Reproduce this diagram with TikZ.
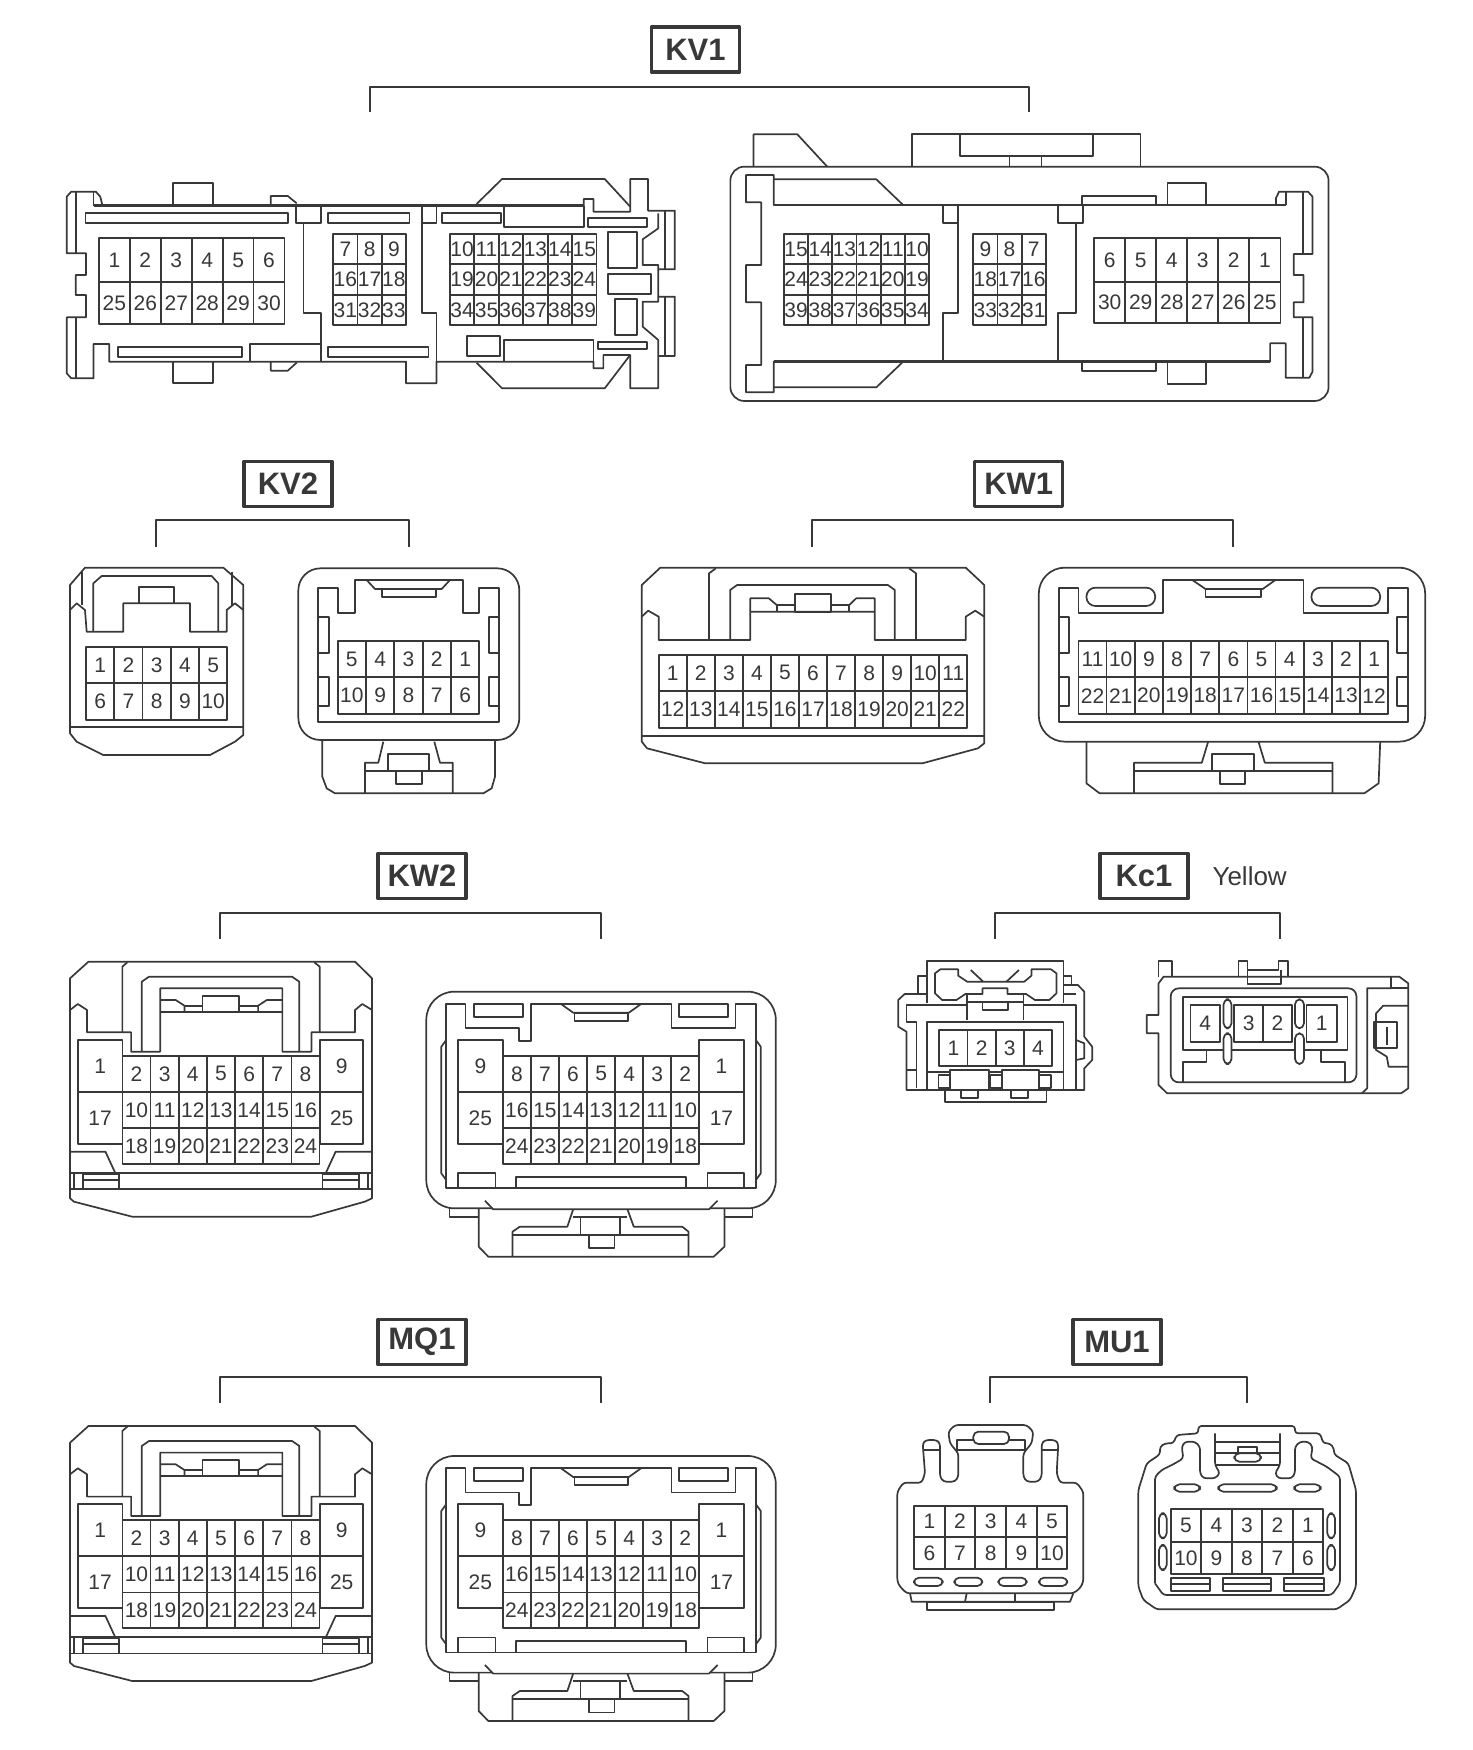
\documentclass[tikz,border=0pt]{standalone}
\usepackage{fontspec}
\setmainfont{Liberation Sans}
\usepackage{xcolor}
\usetikzlibrary{positioning}
\definecolor{ink}{gray}{0.22}
\tikzset{
    conlabel/.style={draw=ink, line width=3.4pt, rectangle, inner sep=0pt, minimum width=88pt, minimum height=45pt, font=\fontsize{31}{31}\selectfont\bfseries, text=ink},
    bracket/.style={line width=2.2pt},
    heavy/.style={line width=2.6pt},
    pinnum/.style={inner sep=0pt, font=\fontsize{21}{21}\selectfont, text=ink},
    pill/.style={rounded corners=5pt},
    viewA/.style={shift={(40,0)}, x=0.44643pt, y=-0.33333pt},
    viewB/.style={shift={(700,100)}, x=0.44643pt, y=-0.33333pt},
    viewC/.style={shift={(40,440)}, x=0.33333pt, y=-0.33333pt},
    viewD/.style={shift={(610,440)}, x=0.52934pt, y=-0.33333pt},
    viewF/.style={shift={(860,840)}, x=0.35714pt, y=-0.33333pt},
    viewH/.style={shift={(860,1300)}, x=0.33333pt, y=-0.33333pt},
}
% One row of pin cells: name, left, cell width, top, bottom, labels
\newcommand{\pinrow}[6]{
    \foreach \lab [count=\c from 0] in {#6}
        \draw ({#2+\c*#3},#4) rectangle node[pinnum] (#1-\lab) {\lab} ({#2+(\c+1)*#3},#5);
}
% Label box with its bracket
\newcommand{\conhead}[7]{
    \node[conlabel] (#1) at (#2,#3) {#1};
    \coordinate (#1top) at (#2,#6);
    \coordinate (#1l) at (#4,#7);
    \coordinate (#1r) at (#5,#7);
    \draw[bracket] (#1l) |- (#1top) -| (#1r);
}
% 25 pin plug, name and vertical position
\newcommand{\plugfront}[2]{
    \begin{scope}[shift={(40,#2)}, x=0.48469pt, y=-0.33333pt]
        \draw (62,415) -- (100,365) -- (650,365) -- (685,415) -- (685,1075) -- (670,1085) -- (560,1130) -- (190,1130) -- (70,1085) -- (62,1075) -- cycle;
        \draw (62,510) -- (78,492) -- (97,510) -- (97,577) -- (188,577) -- (188,635) -- (248,635) -- (248,445) -- (500,445) -- (500,635) -- (560,635) -- (560,577) -- (650,577) -- (650,510) -- (665,492) -- (685,510);
        \draw (170,577) -- (170,380) -- (180,367);
        \draw (566,367) -- (577,380) -- (577,577);
        \draw (210,635) -- (210,425) -- (225,410) -- (520,410) -- (535,425) -- (535,635);
        \draw (248,480) -- (280,480) -- (298,497) -- (298,515);
        \draw (298,497) -- (335,497);
        \draw (335,467) rectangle (410,515);
        \draw (410,497) -- (450,497);
        \draw (450,515) -- (450,497) -- (468,480) -- (500,480);
        \draw (248,515) -- (500,515);
        % side pins
        \draw (78,600) rectangle node[pinnum] (#1-1) {1} (170,755);
        \draw (78,755) rectangle node[pinnum] (#1-17) {17} (170,912);
        \draw (578,600) rectangle node[pinnum] (#1-9) {9} (667,755);
        \draw (578,755) rectangle node[pinnum] (#1-25) {25} (667,912);
        \pinrow{#1}{170}{58.1}{648}{755}{2,3,4,5,6,7,8}
        \pinrow{#1}{170}{58.1}{755}{865}{10,11,12,13,14,15,16}
        \pinrow{#1}{170}{58.1}{865}{972}{18,19,20,21,22,23,24}
        % bottom latches
        \draw (62,935) -- (135,935) -- (155,998);
        \draw (685,935) -- (610,935) -- (590,998);
        \draw (62,998) -- (685,998);
        \draw (62,1048) -- (685,1048);
        \draw (70,998) -- (70,1048);
        \draw (677,998) -- (677,1048);
        \draw (88,1003) rectangle (163,1048);
        \draw (88,1020) -- (163,1020);
        \draw (583,1003) rectangle (658,1048);
        \draw (583,1020) -- (658,1020);
    \end{scope}
}
\newcommand{\plugback}[2]{
    \begin{scope}[shift={(40,#2)}, x=0.48469pt, y=-0.33333pt]
        \draw[rounded corners=28pt] (797,455) rectangle (1518,1105);
        \draw (845,1105) -- (845,1130) -- (905,1130);
        \draw (1470,1105) -- (1470,1130) -- (1412,1130);
        \draw (905,1105) -- (905,1220) -- (925,1250) -- (1390,1250) -- (1412,1220) -- (1412,1105);
        \draw[fill=white] (918,1082) -- (935,1108) -- (1380,1108) -- (1398,1082);
        \draw (1100,1108) -- (1088,1160) -- (990,1160) -- (975,1175) -- (975,1250);
        \draw (1212,1108) -- (1225,1160) -- (1325,1160) -- (1338,1175) -- (1338,1250);
        \draw (975,1185) -- (1338,1185);
        \draw (1100,1130) -- (1212,1130);
        \draw (1115,1130) -- (1115,1185);
        \draw (1197,1130) -- (1197,1185);
        \draw (1132,1185) rectangle (1185,1225);
        \draw (838,1045) -- (838,492) -- (878,492) -- (878,565) -- (988,565) -- (988,603) -- (1013,603) -- (1013,492) -- (1303,492) -- (1303,565) -- (1435,565) -- (1435,492) -- (1477,492) -- (1477,1045) -- cycle;
        \draw (838,600) -- (828,620) -- (828,1000) -- (838,1020);
        \draw (1477,600) -- (1487,620) -- (1487,1000) -- (1477,1020);
        \draw (895,492) rectangle (997,530);
        \draw (1318,492) rectangle (1420,530);
        \draw (1075,492) -- (1100,518) -- (1215,518) -- (1240,492);
        \draw (1103,518) rectangle (1213,543);
        \draw (863,1000) rectangle (940,1045);
        \draw (982,1010) rectangle (1333,1045);
        \draw (1377,1000) rectangle (1452,1045);
        % side pins
        \draw (862,600) rectangle node[pinnum] (#1-9) {9} (955,755);
        \draw (862,755) rectangle node[pinnum] (#1-25) {25} (955,912);
        \draw (1360,600) rectangle node[pinnum] (#1-1) {1} (1452,755);
        \draw (1360,755) rectangle node[pinnum] (#1-17) {17} (1452,912);
        \pinrow{#1}{955}{57.9}{648}{755}{8,7,6,5,4,3,2}
        \pinrow{#1}{955}{57.9}{755}{865}{16,15,14,13,12,11,10}
        \pinrow{#1}{955}{57.9}{865}{972}{24,23,22,21,20,19,18}
    \end{scope}
}

\begin{document}
\begin{tikzpicture}[x=1pt, y=-1pt, line width=1.7pt, line join=round, draw=ink]
    \useasboundingbox (0,0) rectangle (1472,1750);

    % Label boxes and brackets
    \conhead{KV1}{695.5}{49.5}{370}{1029}{87}{112}
    \conhead{KV2}{288}{484}{156}{409}{520}{547}
    \conhead{KW1}{1018.7}{484}{812}{1232.6}{520}{547}
    \conhead{KW2}{422}{876}{220}{601}{912.7}{938.7}
    \conhead{Kc1}{1144}{876}{995}{1279.6}{912.7}{938.7}
    \conhead{MQ1}{422}{1342}{220}{601}{1376.7}{1402.7}
    \conhead{MU1}{1117}{1342}{990}{1247.3}{1376.7}{1402.7}
    \node[right=22pt of Kc1, inner sep=0pt, font=\fontsize{26}{26}\selectfont, text=ink] (yellow) {Yellow};

    % KV1 plug
    \begin{scope}[viewA]
        \draw (140,617) -- (135,590) -- (125,575) -- (70,575) -- (60,590) -- (60,760) -- (103,760) -- (103,825) -- (80,825) -- (80,885) -- (103,885) -- (103,952) -- (60,952) -- (60,1120) -- (70,1135) -- (120,1135) -- (120,1032) -- (155,1032) -- (155,1085) -- (820,1085) -- (820,1150) -- (888,1150) -- (888,1085) -- (1240,1085) -- (1240,1105) -- (1262,1105) -- (1262,1065) -- (1322,1065) -- (1322,1165) -- (1385,1165) -- (1385,1068) -- (1422,1068) -- (1422,890) -- (1385,890) -- (1385,808) -- (1422,808) -- (1422,632) -- (1362,632) -- (1362,537) -- (1322,537) -- (1322,635) -- (1240,635) -- (1240,597) -- (1218,597) -- (1218,617) -- cycle;
        \draw[heavy] (120,617) -- (1218,617);
        \draw (80,575) -- (80,760);
        \draw (80,952) -- (80,1135);
        \draw (120,575) -- (120,617);
        \draw (298,617) -- (298,550) -- (387,550) -- (387,617);
        \draw (298,1085) -- (298,1150) -- (387,1150) -- (387,1085);
        \draw (517,617) -- (517,588) -- (555,588) -- (575,610);
        \draw (517,1085) -- (517,1112) -- (555,1112) -- (575,1088);
        \draw (102,640) rectangle (555,668);
        \draw (645,640) rectangle (828,668);
        \draw (900,640) rectangle (1032,668);
        \draw (573,617) -- (573,668) -- (630,668) -- (630,617);
        \draw (590,668) -- (590,940) -- (630,940) -- (630,1085);
        \draw (855,617) -- (855,940) -- (888,940) -- (888,1085);
        \draw (855,668) -- (888,668) -- (888,617);
        \draw (175,1040) rectangle (452,1070);
        \draw (470,1085) -- (470,1032) -- (630,1032);
        \draw (645,1040) rectangle (870,1070);
        \draw (978,612) -- (1035,537) -- (1265,537) -- (1322,620);
        \draw (978,1088) -- (1035,1165) -- (1265,1165) -- (1322,1065);
        \draw (1040,617) -- (1040,680) -- (1218,680) -- (1218,617);
        \draw (1228,655) rectangle (1360,680);
        \draw (1400,632) -- (1400,808);
        \draw (1400,890) -- (1400,1068);
        \draw (1272,697) rectangle (1337,803);
        \draw (1272,822) rectangle (1368,882);
        \draw (1288,897) rectangle (1337,1005);
        \draw (957,1008) rectangle (1030,1068);
        \draw (1040,1085) -- (1040,1020) -- (1240,1020) -- (1240,1085);
        \draw (1250,1025) rectangle (1360,1046);
        \draw (1385,640) -- (1385,685) -- (1350,718) -- (1350,795) -- (1385,795) -- (1385,808);
        \draw (1385,890) -- (1385,905) -- (1350,905) -- (1350,980) -- (1385,1020) -- (1385,1068);
        \pinrow{kva}{132}{69.3}{715}{845}{1,2,3,4,5,6}
        \pinrow{kva}{132}{69.3}{845}{972}{25,26,27,28,29,30}
        \pinrow{kva}{657}{54.3}{703}{793}{7,8,9}
        \pinrow{kva}{657}{54.3}{793}{885}{16,17,18}
        \pinrow{kva}{657}{54.3}{885}{975}{31,32,33}
        \pinrow{kva}{918}{54.8}{703}{793}{10,11,12,13,14,15}
        \pinrow{kva}{918}{54.8}{793}{885}{19,20,21,22,23,24}
        \pinrow{kva}{918}{54.8}{885}{975}{34,35,36,37,38,39}
    \end{scope}

    % KV1 socket
    \begin{scope}[viewB]
        \draw[rounded corners=14pt] (68,200) rectangle (1408,903);
        \draw (120,200) -- (120,103) -- (218,103) -- (285,200);
        \draw (475,200) -- (475,103) -- (987,103) -- (987,200);
        \draw (583,103) -- (583,167) -- (880,167) -- (880,103);
        \draw (693,167) -- (693,200);
        \draw (765,167) -- (765,200);
        \draw (165,315) -- (165,225) -- (103,225) -- (103,307) -- (137,307) -- (137,495) -- (103,495) -- (103,607) -- (137,607) -- (137,795) -- (103,795) -- (103,877) -- (165,877) -- (165,785) -- (1277,785) -- (1277,730) -- (1312,730) -- (1312,833) -- (1365,833) -- (1372,815) -- (1372,652) -- (1330,652) -- (1330,607) -- (1352,607) -- (1352,525) -- (1330,525) -- (1330,462) -- (1372,462) -- (1372,290) -- (1362,275) -- (1297,275) -- (1290,295) -- (1290,315) -- cycle;
        \draw[heavy] (165,315) -- (1312,315);
        \draw[heavy] (165,785) -- (1277,785);
        \draw (1312,275) -- (1312,315);
        \draw (1350,275) -- (1350,462);
        \draw (1350,652) -- (1350,833);
        \draw (165,238) -- (395,238) -- (455,315);
        \draw (165,862) -- (395,862) -- (455,785);
        \draw (545,315) -- (545,370) -- (578,370) -- (578,315);
        \draw (578,370) -- (578,640) -- (545,640) -- (545,785);
        \draw (802,315) -- (802,370) -- (858,370) -- (858,315);
        \draw (842,370) -- (842,640) -- (802,640) -- (802,785);
        \draw (855,315) -- (855,288) -- (1022,288) -- (1022,315);
        \draw (1047,315) -- (1047,250) -- (1133,250) -- (1133,315);
        \draw (855,785) -- (855,812) -- (1022,812) -- (1022,785);
        \draw (1047,785) -- (1047,852) -- (1133,852) -- (1133,785);
        \pinrow{kvb}{188}{54.2}{403}{493}{15,14,13,12,11,10}
        \pinrow{kvb}{188}{54.2}{493}{585}{24,23,22,21,20,19}
        \pinrow{kvb}{188}{54.2}{585}{675}{39,38,37,36,35,34}
        \pinrow{kvb}{612}{54.3}{403}{493}{9,8,7}
        \pinrow{kvb}{612}{54.3}{493}{585}{18,17,16}
        \pinrow{kvb}{612}{54.3}{585}{675}{33,32,31}
        \pinrow{kvb}{883}{69.5}{415}{545}{6,5,4,3,2,1}
        \pinrow{kvb}{883}{69.5}{545}{670}{30,29,28,27,26,25}
    \end{scope}

    % KV2 plug and socket
    \begin{scope}[viewC]
        \draw (90,435) -- (135,383) -- (550,383) -- (610,435) -- (610,885) -- (585,905) -- (510,945) -- (190,945) -- (110,905) -- (90,880) -- cycle;
        \draw (90,860) -- (610,860);
        \draw (125,395) -- (125,495);
        \draw (575,395) -- (575,495);
        \draw (90,510) -- (110,490) -- (135,510) -- (140,575) -- (250,575) -- (250,490) -- (450,490) -- (450,575) -- (560,575) -- (560,510) -- (585,490) -- (610,510);
        \draw (160,575) -- (160,430) -- (185,408) -- (515,408) -- (535,430) -- (535,575);
        \draw (297,490) -- (297,440) -- (403,440) -- (403,490);
        \pinrow{kwa}{138}{84.8}{622}{728}{1,2,3,4,5}
        \pinrow{kwa}{138}{84.8}{728}{840}{6,7,8,9,10}

        \draw[rounded corners=22pt] (775,385) rectangle (1438,900);
        \draw (847,900) -- (847,1010) -- (860,1045) -- (885,1060) -- (1330,1060) -- (1355,1045) -- (1365,1010) -- (1365,900);
        \draw (1030,905) -- (1015,968) -- (975,968) -- (975,1060);
        \draw (1183,905) -- (1200,968) -- (1238,968) -- (1238,1060);
        \draw (975,993) -- (1238,993);
        \draw (1043,943) rectangle (1168,993);
        \draw (1067,993) rectangle (1145,1033);
        \draw (835,845) -- (835,445) -- (895,445) -- (895,520) -- (945,520) -- (945,420) -- (1268,420) -- (1268,520) -- (1318,520) -- (1318,445) -- (1378,445) -- (1378,845) -- cycle;
        \draw (980,420) -- (1005,447) -- (1205,447) -- (1230,420);
        \draw (1025,447) rectangle (1187,472);
        \draw (835,530) rectangle (867,640);
        \draw (835,712) rectangle (867,797);
        \draw (1347,530) rectangle (1378,640);
        \draw (1347,712) rectangle (1378,797);
        \pinrow{kwb}{893}{85}{603}{712}{5,4,3,2,1}
        \pinrow{kwb}{893}{85}{712}{822}{10,9,8,7,6}
    \end{scope}

    % KW1 plug and socket
    \begin{scope}[viewD]
        \draw (60,435) -- (95,383) -- (672,383) -- (707,435) -- (707,910) -- (695,925) -- (590,970) -- (180,970) -- (70,925) -- (60,905) -- cycle;
        \draw (60,887) -- (707,887);
        \draw (60,530) -- (72,512) -- (92,530) -- (92,600) -- (265,600) -- (265,515) -- (500,515) -- (500,600) -- (672,600) -- (672,530) -- (690,512) -- (707,530);
        \draw (187,600) -- (187,400) -- (200,385);
        \draw (565,385) -- (578,400) -- (578,600);
        \draw (227,600) -- (227,450) -- (240,435) -- (525,435) -- (538,450) -- (538,600);
        \draw (265,515) -- (265,475) -- (300,475) -- (315,495) -- (350,495);
        \draw (350,463) rectangle (417,515);
        \draw (417,495) -- (452,495) -- (465,475) -- (500,475) -- (500,515);
        \draw (315,495) -- (315,515);
        \draw (452,495) -- (452,515);
        \pinrow{kxa}{92}{53}{645}{752}{1,2,3,4,5,6,7,8,9,10,11}
        \pinrow{kxa}{92}{53}{752}{865}{12,13,14,15,16,17,18,19,20,21,22}

        \draw[rounded corners=26pt] (810,383) rectangle (1540,905);
        \draw (900,905) -- (900,1030) -- (925,1060) -- (1425,1060) -- (1452,1030) -- (1455,905);
        \draw (1130,905) -- (1118,968) -- (990,968) -- (990,1060);
        \draw (1225,905) -- (1237,968) -- (1365,968) -- (1365,1060);
        \draw (990,993) -- (1365,993);
        \draw (1137,943) rectangle (1217,993);
        \draw (1152,993) rectangle (1200,1033);
        \draw (848,845) -- (848,445) -- (885,445) -- (885,520) -- (1045,520) -- (1045,420) -- (1310,420) -- (1310,520) -- (1470,520) -- (1470,445) -- (1507,445) -- (1507,845) -- cycle;
        \draw (1100,420) -- (1125,447) -- (1233,447) -- (1257,420);
        \draw (1125,447) rectangle (1230,472);
        \draw[rounded corners=9pt] (900,443) rectangle (1030,498);
        \draw[rounded corners=9pt] (1325,443) rectangle (1455,498);
        \draw (848,530) rectangle (867,640);
        \draw (848,712) rectangle (867,797);
        \draw (1487,530) rectangle (1507,640);
        \draw (1487,712) rectangle (1507,797);
        \pinrow{kxb}{885}{53.2}{603}{712}{11,10,9,8,7,6,5,4,3,2,1}
        \pinrow{kxb}{885}{53.2}{712}{822}{22,21,20,19,18,17,16,15,14,13,12}
    \end{scope}

    % KW2 and MQ1
    \plugfront{kya}{840}
    \plugback{kyb}{840}
    \plugfront{mqa}{1304.3}
    \plugback{mqb}{1304.3}

    % Kc1 plug and socket
    \begin{scope}[viewF]
        \draw (187,490) -- (187,363) -- (570,363) -- (570,490);
        \draw (210,400) -- (225,388) -- (275,388) -- (275,407) -- (300,425) -- (460,425) -- (480,407) -- (480,388) -- (535,388) -- (550,400) -- (550,460) -- (530,480) -- (490,480) -- (465,462) -- (413,462) -- (413,445) -- (343,445) -- (343,462) -- (295,462) -- (270,480) -- (230,480) -- (210,460) -- cycle;
        \draw (310,390) -- (345,425);
        \draw (445,390) -- (410,425);
        \draw (300,462) -- (300,540);
        \draw (458,462) -- (458,540);
        \draw (300,485) -- (458,485);
        \draw (343,487) rectangle (415,510);
        \draw (163,462) -- (163,408) -- (187,408);
        \draw (570,408) -- (592,408) -- (592,435);
        \draw (187,462) -- (125,462) -- (107,480) -- (107,560) -- (130,575) -- (130,750) -- (628,750) -- (628,685) -- (650,660) -- (650,620) -- (628,590) -- (628,455) -- (610,435) -- (570,435);
        \draw (300,495) -- (130,495) -- (130,545) -- (158,545) -- (158,745);
        \draw (130,690) -- (158,690);
        \draw (458,495) -- (605,495) -- (605,750);
        \draw (570,462) -- (605,462);
        \draw (187,750) -- (187,545) -- (570,545) -- (570,750);
        \draw (187,695) -- (252,695);
        \draw (362,695) -- (398,695);
        \draw (502,695) -- (570,695);
        \draw (605,600) -- (628,610) -- (628,655) -- (605,660);
        \pinrow{kca}{222}{79}{570}{678}{1,2,3,4}
        \draw (252,690) rectangle (362,750);
        \draw (398,690) rectangle (502,750);
        \draw (220,705) rectangle (252,745);
        \draw (365,705) rectangle (398,745);
        \draw (502,705) rectangle (535,745);
        \draw (238,750) rectangle (522,787);
        \draw (283,750) -- (283,775) -- (330,775) -- (330,750);
        \draw (423,750) -- (423,775) -- (470,775) -- (470,750);

        \draw (836,430) -- (850,410) -- (1510,410) -- (1535,430) -- (1535,745) -- (1515,760) -- (860,760) -- (836,735) -- (836,580) -- (803,580) -- (803,525) -- (836,525) -- cycle;
        \draw (836,410) -- (836,363) -- (873,363) -- (873,410);
        \draw (1060,410) -- (1060,363) -- (1085,363) -- (1085,390) -- (1172,390) -- (1172,363) -- (1198,363) -- (1198,410);
        \draw (1085,390) -- (1085,432) -- (1178,432) -- (1178,390);
        \draw (1487,410) -- (1487,445) -- (1420,445) -- (1420,745) -- (1405,760);
        \draw (1487,445) -- (1535,445);
        \draw (1535,497) -- (1465,497) -- (1445,520) -- (1445,630) -- (1475,650) -- (1480,680) -- (1535,680);
        \draw (1440,545) rectangle (1503,625);
        \draw (1475,560) -- (1475,615);
        \draw[rounded corners=8pt] (870,445) rectangle (1390,727);
        \draw (905,470) rectangle (1365,630);
        \draw (905,727) -- (905,665) -- (970,665) -- (970,630);
        \draw (1290,630) -- (1290,665) -- (1357,665) -- (1357,727);
        \draw (925,495) rectangle node[pinnum] (kcb-4) {4} (1008,605);
        \draw (1048,495) rectangle node[pinnum] (kcb-3) {3} (1128,605);
        \draw (1128,495) rectangle node[pinnum] (kcb-2) {2} (1210,605);
        \draw (1250,495) rectangle node[pinnum] (kcb-1) {1} (1335,605);
        \draw[pill, fill=white] (1018,478) rectangle (1040,565);
        \draw[pill, fill=white] (1018,580) rectangle (1040,672);
        \draw[pill, fill=white] (1218,478) rectangle (1243,565);
        \draw[pill, fill=white] (1218,580) rectangle (1243,672);
    \end{scope}

    % MU1 plug and socket
    \begin{scope}[viewH]
        \draw[rounded corners=3pt] (120,860) -- (112,845) -- (112,575) -- (130,548) -- (185,548) -- (195,520) -- (188,430) -- (198,420) -- (230,420) -- (240,430) -- (240,530) -- (250,545) -- (285,545) -- (295,530) -- (295,460) -- (270,430) -- (265,395) -- (285,375) -- (500,375) -- (520,395) -- (515,430) -- (490,460) -- (490,530) -- (500,545) -- (535,545) -- (545,530) -- (545,430) -- (555,420) -- (585,420) -- (595,430) -- (590,520) -- (600,548) -- (650,548) -- (670,575) -- (670,845) -- (660,865) -- (640,880) -- (140,880) -- cycle;
        \draw (290,450) -- (290,420) -- (495,420) -- (495,450) -- cycle;
        \draw[pill, fill=white] (340,395) rectangle (447,432);
        \draw (190,450) -- (240,450);
        \draw (545,450) -- (595,450);
        \pinrow{mua}{162}{92}{617}{712}{1,2,3,4,5}
        \pinrow{mua}{162}{92}{712}{808}{6,7,8,9,10}
        \draw[pill] (162,833) rectangle (248,858);
        \draw[pill] (283,833) rectangle (367,858);
        \draw[pill] (415,833) rectangle (500,858);
        \draw[pill] (537,833) rectangle (622,858);
        \draw (150,880) -- (155,905) -- (630,905) -- (640,880);
        \draw (320,880) -- (315,905);
        \draw (465,880) -- (465,905);
        \draw (200,905) rectangle (583,930);

        \draw[rounded corners=3pt] (835,860) -- (835,570) -- (860,490) -- (900,463) -- (900,440) -- (915,430) -- (940,430) -- (950,405) -- (1015,400) -- (1015,378) -- (1305,378) -- (1305,400) -- (1380,400) -- (1390,430) -- (1410,430) -- (1422,445) -- (1422,463) -- (1465,490) -- (1488,570) -- (1488,860) -- (1470,900) -- (1430,928) -- (890,928) -- (850,900) -- cycle;
        \draw[rounded corners=3pt] (885,850) -- (885,530) -- (905,510) -- (945,490) -- (970,475) -- (965,440) -- (975,425) -- (1005,425) -- (1020,440) -- (1020,520) -- (1030,535) -- (1065,535) -- (1080,520) -- (1065,495) -- (1065,400);
        \draw[rounded corners=3pt] (1260,400) -- (1260,495) -- (1245,520) -- (1255,535) -- (1295,535) -- (1305,520) -- (1305,440) -- (1320,425) -- (1345,425) -- (1358,440) -- (1352,475) -- (1400,500) -- (1440,530) -- (1440,850) -- (1415,885) -- (910,885) -- (885,850);
        \draw (1065,495) -- (1260,495);
        \draw (1065,425) -- (1260,425);
        \draw (1065,460) -- (1260,460);
        \draw (1135,440) rectangle (1190,460);
        \draw[pill, fill=white] (1123,460) rectangle (1203,485);
        \draw[pill] (943,553) rectangle (1020,575);
        \draw[pill] (1075,553) rectangle (1250,575);
        \draw[pill] (1303,553) rectangle (1382,575);
        \pinrow{mub}{932}{91.6}{627}{725}{5,4,3,2,1}
        \pinrow{mub}{932}{91.6}{725}{822}{10,9,8,7,6}
        \draw[pill] (897,640) rectangle (920,715);
        \draw[pill] (897,735) rectangle (920,810);
        \draw[pill] (1402,640) rectangle (1425,715);
        \draw[pill] (1402,735) rectangle (1425,810);
        \draw (932,833) rectangle (1050,872);
        \draw (932,852) -- (1050,852);
        \draw (1090,833) rectangle (1232,872);
        \draw (1090,852) -- (1232,852);
        \draw (1273,833) rectangle (1393,872);
        \draw (1273,852) -- (1393,852);
    \end{scope}
\end{tikzpicture}
\end{document}
